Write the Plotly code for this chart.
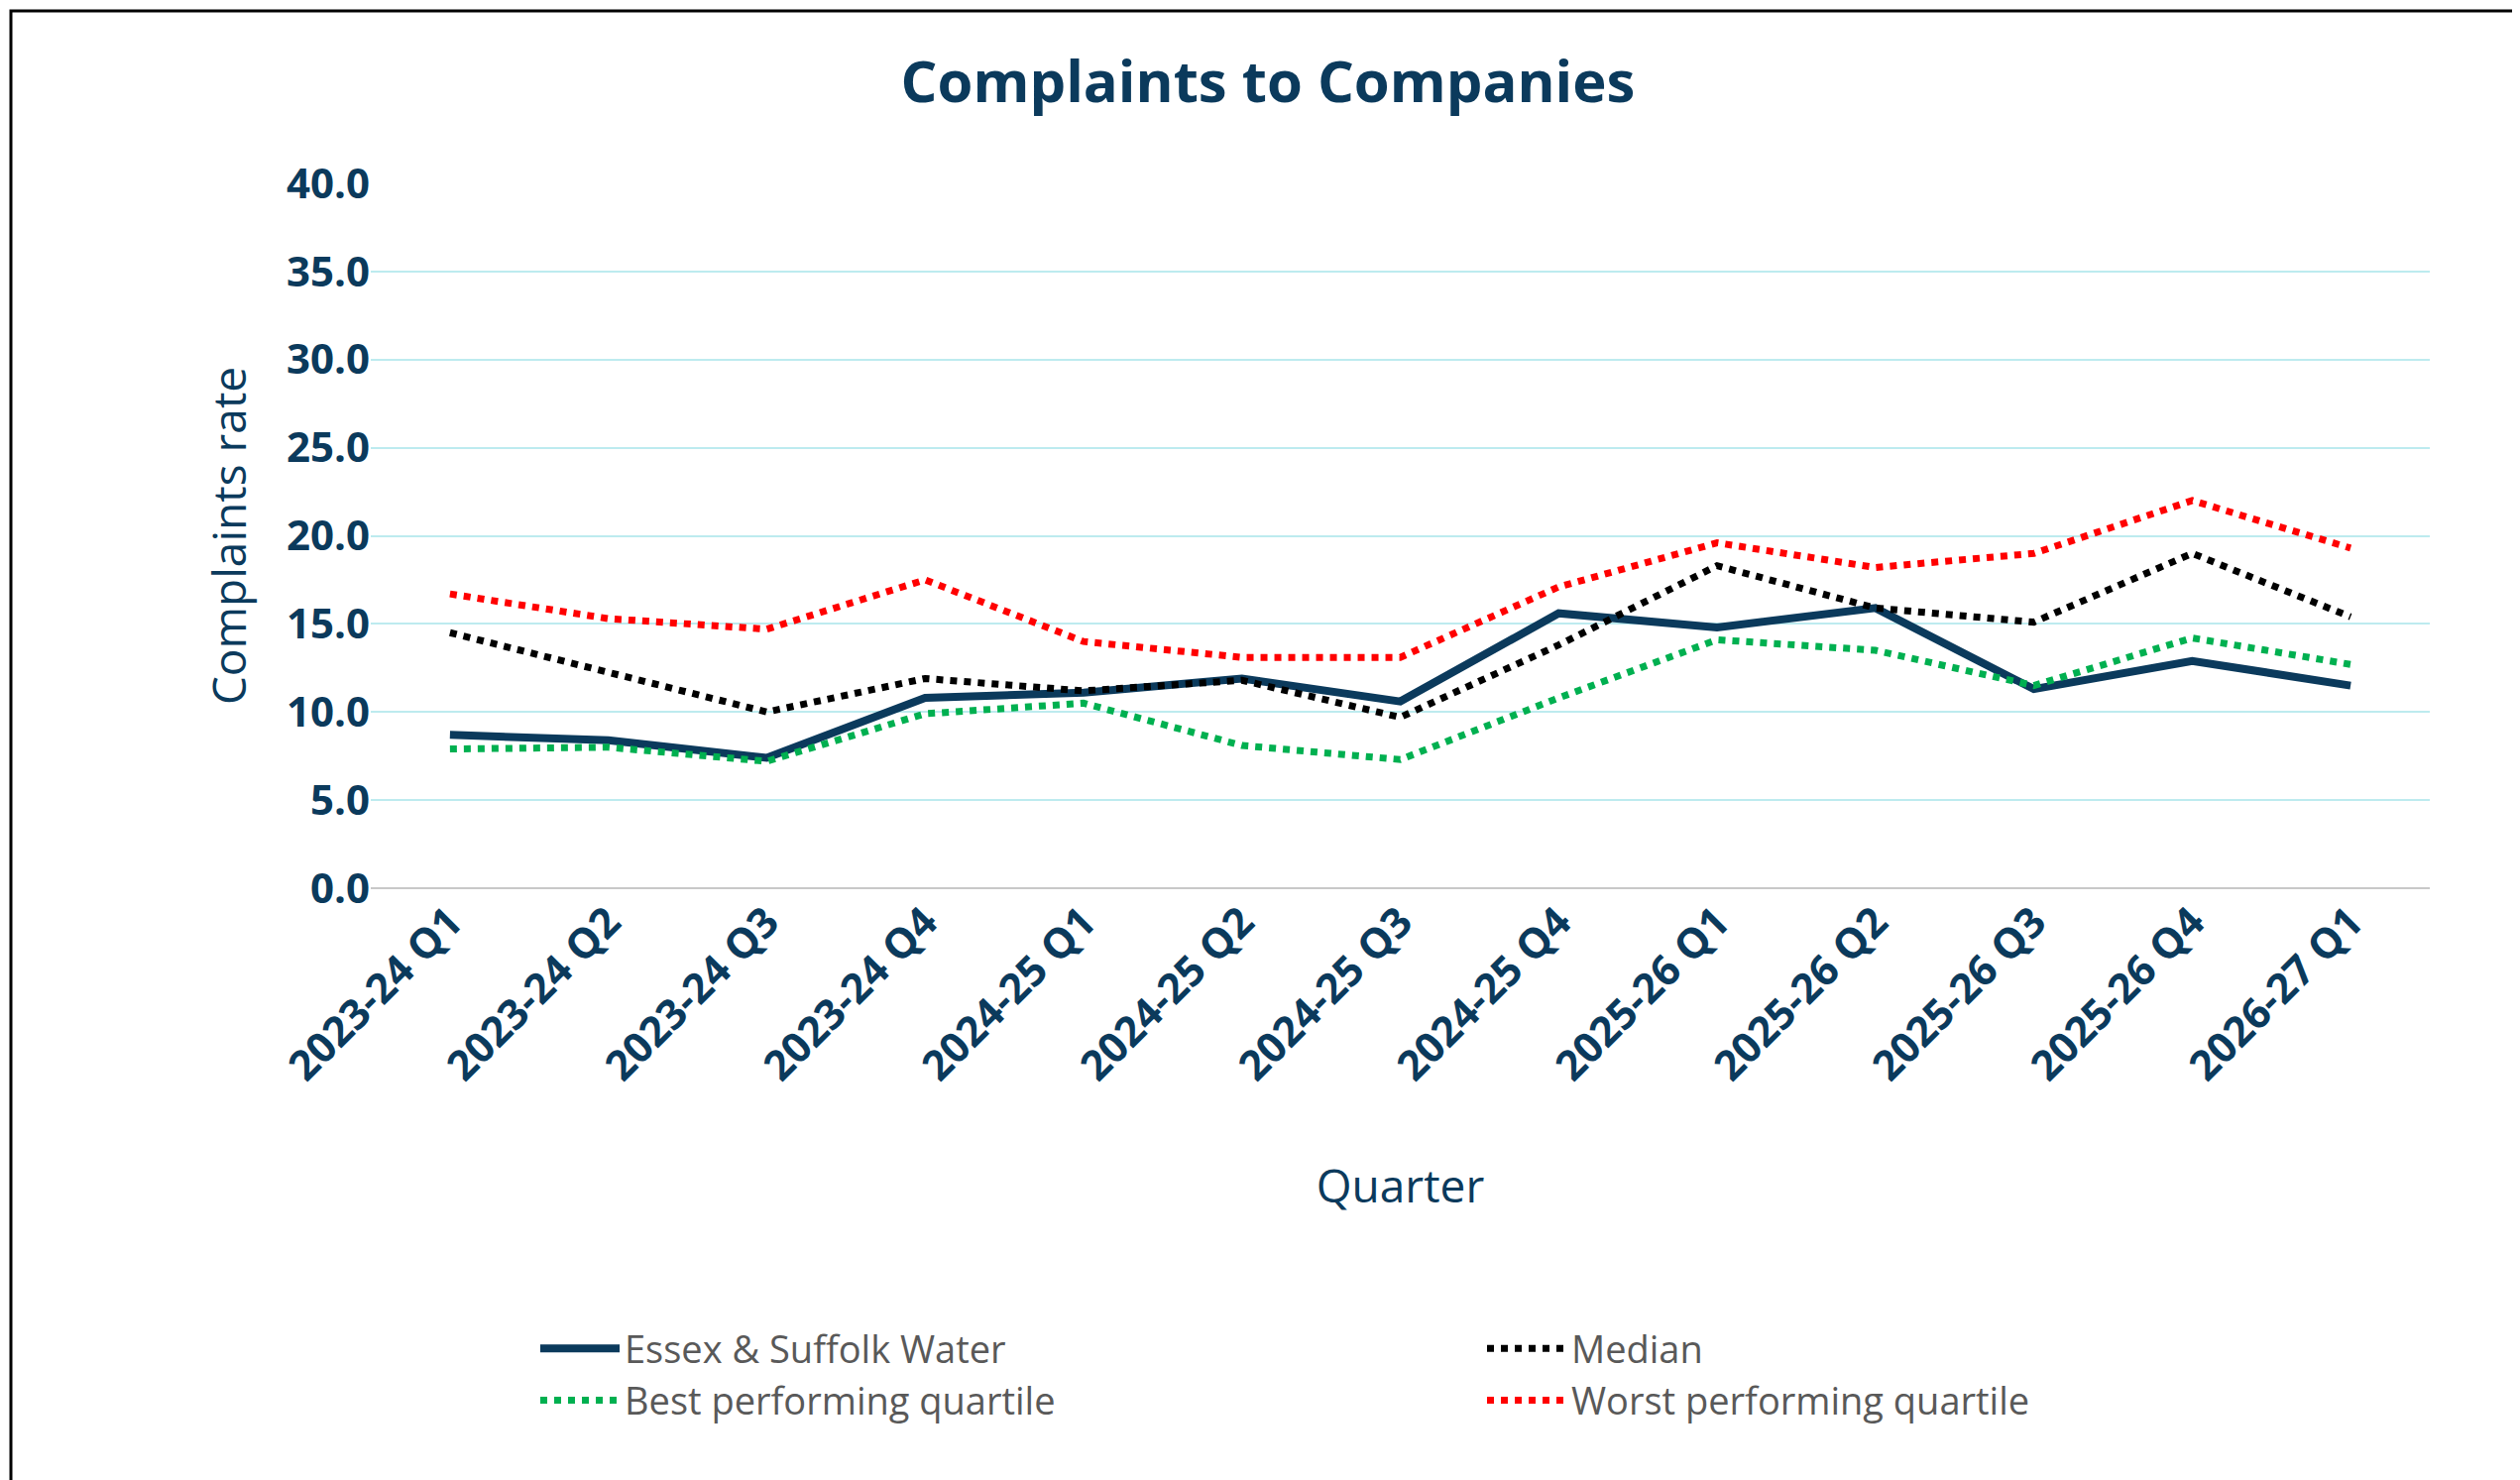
import plotly.graph_objects as go

quarters = ["2023-24 Q1","2023-24 Q2","2023-24 Q3","2023-24 Q4","2024-25 Q1","2024-25 Q2",
            "2024-25 Q3","2024-25 Q4","2025-26 Q1","2025-26 Q2","2025-26 Q3","2025-26 Q4","2026-27 Q1"]
essex = [8.7, 8.4, 7.4, 10.8, 11.1, 11.9, 10.6, 15.6, 14.8, 15.9, 11.3, 12.9, 11.5]
median = [14.5, 12.2, 10.0, 11.9, 11.2, 11.8, 9.7, 13.8, 18.3, 15.9, 15.1, 19.0, 15.4]
best = [7.9, 8.0, 7.2, 9.9, 10.5, 8.1, 7.3, 10.8, 14.1, 13.5, 11.5, 14.2, 12.7]
worst = [16.7, 15.3, 14.7, 17.5, 14.0, 13.1, 13.1, 17.1, 19.6, 18.2, 19.0, 22.0, 19.3]

W, H = 2542, 1493
L, R, T, B = 366, 99, 177, 605
navy = "#0B3A5C"
font = "Open Sans"

fig = go.Figure()
fig.add_trace(go.Scatter(x=quarters, y=essex, name="Essex & Suffolk Water", mode="lines",
                         line=dict(color=navy, width=8)))
fig.add_trace(go.Scatter(x=quarters, y=median, name="Median", mode="lines",
                         line=dict(color="black", width=7, dash="dot")))
fig.add_trace(go.Scatter(x=quarters, y=best, name="Best performing quartile", mode="lines",
                         line=dict(color="#00B050", width=7, dash="dot")))
fig.add_trace(go.Scatter(x=quarters, y=worst, name="Worst performing quartile", mode="lines",
                         line=dict(color="#FF0000", width=7, dash="dot")))

pw, ph = W - L - R, H - T - B
fig.update_layout(
    width=W, height=H, paper_bgcolor="white", plot_bgcolor="white",
    margin=dict(l=L, r=R, t=T, b=B, autoexpand=False),
    font=dict(family=font, color=navy),
    title=dict(text="<b>Complaints to Companies</b>", x=0.5, xanchor="center", y=1 - 75/H,
               yanchor="middle", font=dict(size=58, color=navy)),
    xaxis=dict(tickangle=-45, tickfont=dict(size=42, color=navy, family=font), tickprefix="<b>",
               ticksuffix="</b>",
               title=dict(text="Quarter", font=dict(size=46, color=navy), standoff=80),
               showgrid=False, showline=False, ticks="", range=[-0.5, 12.5]),
    yaxis=dict(range=[0, 40], dtick=5, tickformat=".1f", tickprefix="<b>", ticksuffix="</b>",
               tickfont=dict(size=42, color=navy, family=font),
               title=dict(text="Complaints rate", font=dict(size=46, color=navy), standoff=25),
               gridcolor="#BDEBEF", gridwidth=2, zeroline=True, zerolinecolor="#C8C8C8",
               zerolinewidth=2, ticks=""),
    legend=dict(orientation="h", x=(532 - L) / pw, y=-(1321 - (H - B)) / ph, xanchor="left",
                yanchor="top", entrywidth=860, entrywidthmode="pixels", tracegroupgap=0,
                font=dict(size=38, color="#595959"), itemwidth=80),
    shapes=[dict(type="rect", xref="paper", yref="paper",
                 x0=-(L - 3) / pw, x1=1 + (R - 3) / pw, y0=-(B - 3) / ph, y1=1 + (T - 3) / ph,
                 line=dict(color="black", width=3))],
)
fig.write_html("out.html")
